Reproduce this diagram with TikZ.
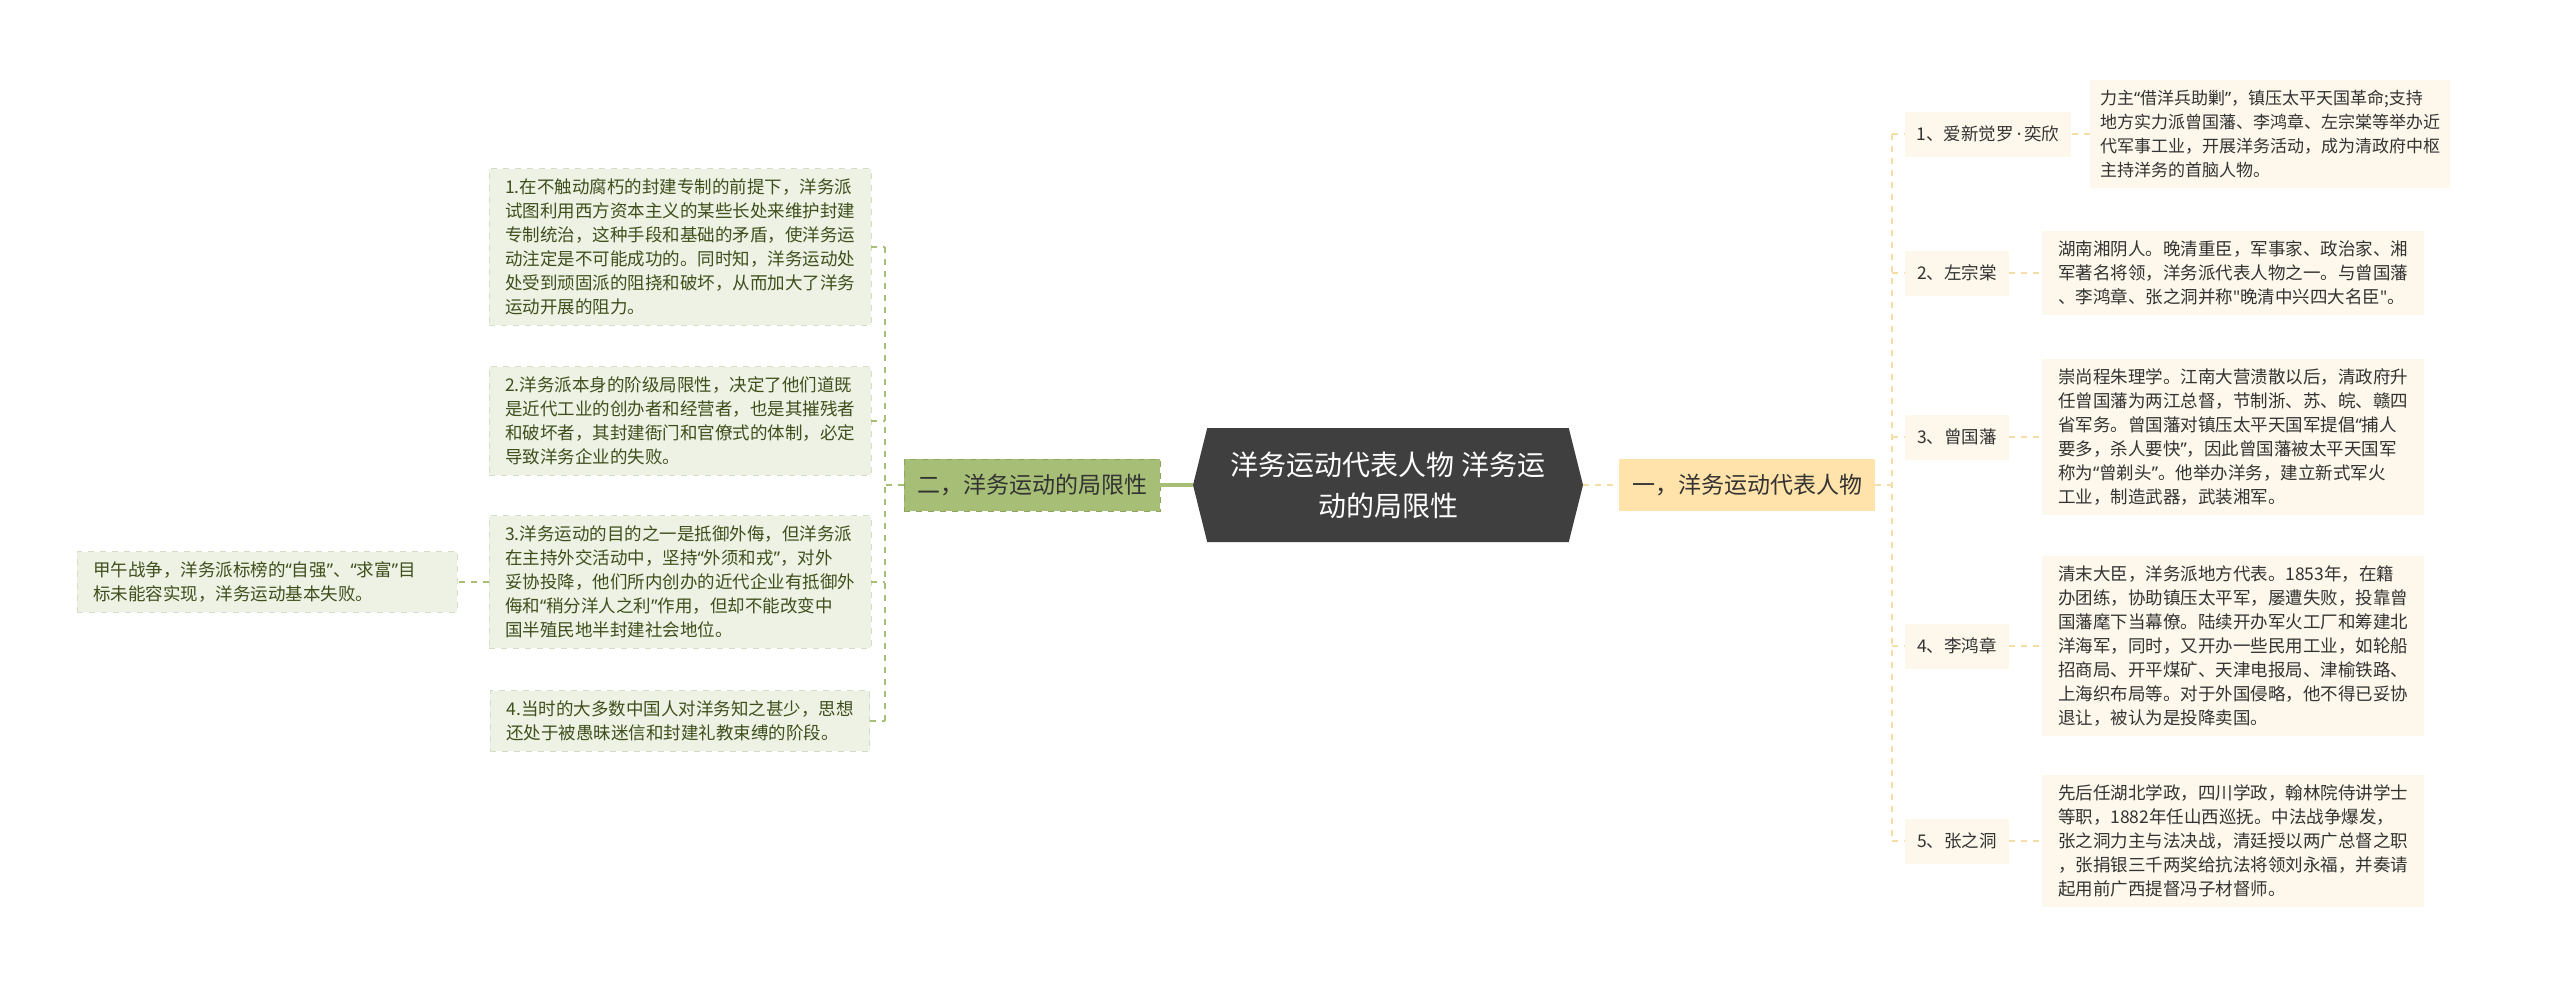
\documentclass[tikz,border=0pt]{standalone}
\usepackage{fontspec}
\setmainfont{Noto Sans CJK SC}
\newfontfamily\quotefont{Noto Sans}
\usepackage{xcolor}
\usepackage{tikz}
\usetikzlibrary{shapes.symbols}

\definecolor{rootfill}{HTML}{3F3F3F}
\definecolor{orangefill}{HTML}{FFE3AA}
\definecolor{orangeline}{HTML}{F5DDA6}
\definecolor{creamfill}{HTML}{FDF8EB}
\definecolor{greenfill}{HTML}{A7BE76}
\definecolor{greenline}{HTML}{A7BE76}
\definecolor{greenborder}{HTML}{8DA65C}
\definecolor{sagefill}{HTML}{EEF2E4}
\definecolor{sageborder}{HTML}{D6DDC6}
\definecolor{sagetext}{HTML}{3E4F1C}
\definecolor{darktext}{HTML}{333333}

\newcommand{\smalltxt}{\fontsize{8.75pt}{12pt}\selectfont}
% narrow quotes and dot, as in the original
\newcommand{\qo}{{\quotefont “}}
\newcommand{\qc}{{\quotefont ”}}
\newcommand{\mdot}{\,{\quotefont ·}\,}

\begin{document}
\begin{tikzpicture}[x=0.5pt, y=-0.5pt,
  root/.style={shape=signal, signal to=west and east, signal pointer angle=152,
    fill=rootfill, text=white, align=center, minimum width=195pt, minimum height=57pt,
    inner sep=2pt, font=\fontsize{14pt}{20.5pt}\selectfont},
  topic/.style={minimum width=128pt, minimum height=26pt, inner sep=3pt,
    font=\fontsize{11.5pt}{14pt}\selectfont},
  rtopic/.style={topic, fill=orangefill, text=darktext},
  ltopic/.style={topic, fill=greenfill, draw=greenborder, dashed, text=black!80},
  who/.style={fill=creamfill, text=darktext, minimum height=22.5pt, inner xsep=6pt, font=\smalltxt},
  rnote/.style={fill=creamfill, text=darktext, align=left, inner xsep=8pt, inner ysep=5pt, font=\smalltxt},
  lnote/.style={fill=sagefill, draw=sageborder, dashed, text=sagetext, align=left,
    inner xsep=8pt, inner ysep=5pt, font=\smalltxt},
  rlink/.style={draw=orangeline, dashed, line width=0.8pt},
  llink/.style={draw=greenline, dashed, line width=0.8pt}
]
\useasboundingbox (0,0) rectangle (2560,981);

% centre and the two main branches
\node[root] (root) at (1388,485) {洋务运动代表人物 洋务运\\动的局限性};
\node[rtopic] (rmain) at (1747,485) {一，洋务运动代表人物};
\node[ltopic] (lmain) at (1032,485) {二，洋务运动的局限性};
\draw[orangeline, dashed, line width=1.2pt] (root.east) -- (rmain.west);
\draw[greenline, line width=1.6pt] (root.west) -- (lmain.east);

% right side: persons
\node[who] (who1) at (1988,134) {1、爱新觉罗\mdot 奕欣};
\node[who] (who2) at (1957,273) {2、左宗棠};
\node[who] (who3) at (1957,437) {3、曾国藩};
\node[who] (who4) at (1957,646) {4、李鸿章};
\node[who] (who5) at (1957,841) {5、张之洞};

\node[rnote, inner xsep=5pt, font=\fontsize{8.5pt}{12pt}\selectfont] (note1) at (2270,134) {力主\qo 借洋兵助剿\qc ，镇压太平天国革命;支持\\地方实力派曾国藩、李鸿章、左宗棠等举办近\\代军事工业，开展洋务活动，成为清政府中枢\\主持洋务的首脑人物。};
\node[rnote] (note2) at (2233,273) {湖南湘阴人。晚清重臣，军事家、政治家、湘\\军著名将领，洋务派代表人物之一。与曾国藩\\、李鸿章、张之洞并称{\quotefont "}晚清中兴四大名臣{\quotefont "}。};
\node[rnote] (note3) at (2233,437) {崇尚程朱理学。江南大营溃散以后，清政府升\\任曾国藩为两江总督，节制浙、苏、皖、赣四\\省军务。曾国藩对镇压太平天国军提倡\qo 捕人\\要多，杀人要快\qc ，因此曾国藩被太平天国军\\称为\qo 曾剃头\qc 。他举办洋务，建立新式军火\\工业，制造武器，武装湘军。};
\node[rnote] (note4) at (2233,646) {清末大臣，洋务派地方代表。1853年，在籍\\办团练，协助镇压太平军，屡遭失败，投靠曾\\国藩麾下当幕僚。陆续开办军火工厂和筹建北\\洋海军，同时，又开办一些民用工业，如轮船\\招商局、开平煤矿、天津电报局、津榆铁路、\\上海织布局等。对于外国侵略，他不得已妥协\\退让，被认为是投降卖国。};
\node[rnote] (note5) at (2233,841) {先后任湖北学政，四川学政，翰林院侍讲学士\\等职，1882年任山西巡抚。中法战争爆发，\\张之洞力主与法决战，清廷授以两广总督之职\\，张捐银三千两奖给抗法将领刘永福，并奏请\\起用前广西提督冯子材督师。};

\coordinate (rtrunk) at (1892,485);
\draw[rlink] (rmain.east) -- (rtrunk);
\draw[rlink] (rtrunk |- who1.west) -- (rtrunk |- who5.west);
\foreach \i in {1,...,5} {
  \draw[rlink] (rtrunk |- who\i.west) -- (who\i.west);
  \draw[rlink] (who\i.east) -- (note\i.west |- who\i.east);
}

% left side: limits
\node[lnote] (lim1) at (680,247) {1.在不触动腐朽的封建专制的前提下，洋务派\\试图利用西方资本主义的某些长处来维护封建\\专制统治，这种手段和基础的矛盾，使洋务运\\动注定是不可能成功的。同时知，洋务运动处\\处受到顽固派的阻挠和破坏，从而加大了洋务\\运动开展的阻力。};
\node[lnote] (lim2) at (680,421) {2.洋务派本身的阶级局限性，决定了他们道既\\是近代工业的创办者和经营者，也是其摧残者\\和破坏者，其封建衙门和官僚式的体制，必定\\导致洋务企业的失败。};
\node[lnote] (lim3) at (680,582) {3.洋务运动的目的之一是抵御外侮，但洋务派\\在主持外交活动中，坚持\qo 外须和戎\qc ，对外\\妥协投降，他们所内创办的近代企业有抵御外\\侮和\qo 稍分洋人之利\qc 作用，但却不能改变中\\国半殖民地半封建社会地位。};
\node[lnote] (lim4) at (680,721) {4.当时的大多数中国人对洋务知之甚少，思想\\还处于被愚昧迷信和封建礼教束缚的阶段。};
\node[lnote, text width=174pt] (fail) at (267,582) {甲午战争，洋务派标榜的\qo 自强\qc 、\qo 求富\qc 目\\标未能容实现，洋务运动基本失败。};

\coordinate (ltrunk) at (885,485);
\draw[llink] (lmain.west) -- (ltrunk);
\draw[llink] (ltrunk |- lim1.east) -- (ltrunk |- lim4.east);
\foreach \i in {1,...,4}
  \draw[llink] (lim\i.east) -- (ltrunk |- lim\i.east);
\draw[llink] (lim3.west) -- (fail.east);
\end{tikzpicture}
\end{document}
